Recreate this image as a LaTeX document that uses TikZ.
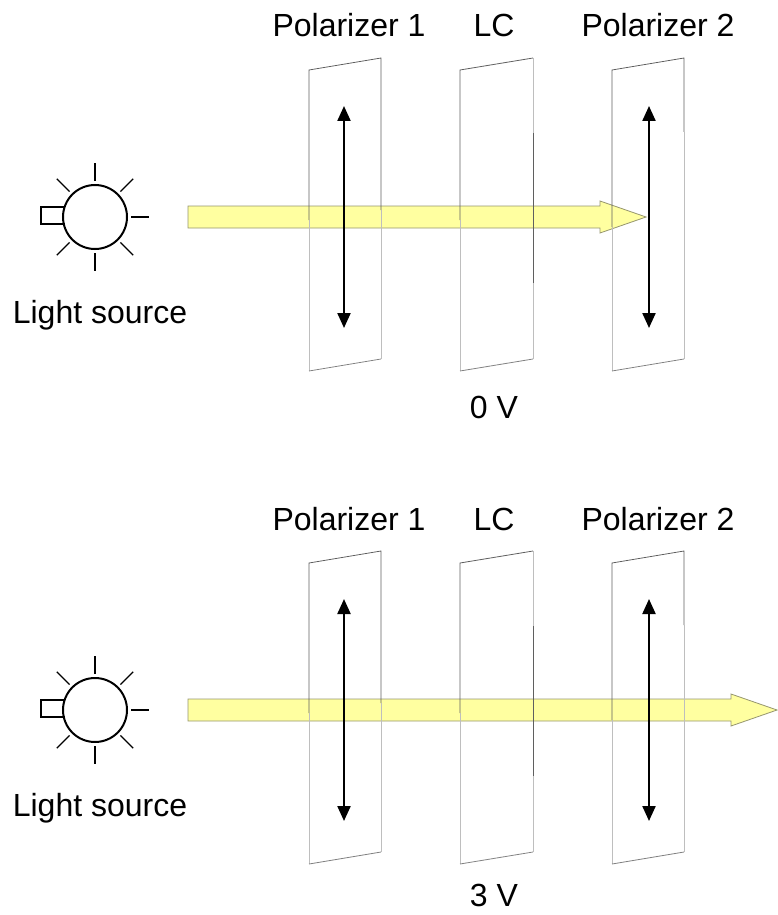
\documentclass[tikz,border=0pt]{standalone}
\usepackage{fontspec}
\setmainfont{Liberation Sans}
\usetikzlibrary{arrows.meta}
\definecolor{beamfill}{RGB}{255,255,160}
\definecolor{beamedge}{RGB}{150,150,110}
\definecolor{edgedark}{RGB}{95,95,95}
\definecolor{edgemid}{RGB}{130,130,130}
\definecolor{edgelight}{RGB}{190,190,190}
\tikzset{
  lbl/.style={font=\fontsize{32}{38}\selectfont, anchor=base, inner sep=0pt},
  bulb/.style={circle, draw=black, line width=2pt, minimum size=64pt, inner sep=0pt},
  bulbbase/.style={draw=black, line width=2pt},
  ray/.style={line width=1.3pt},
  beam/.style={fill=beamfill, draw=beamedge, line width=0.8pt},
  pdark/.style={draw=edgedark, line width=0.8pt},
  pmid/.style={draw=edgemid, line width=0.8pt},
  plight/.style={draw=edgelight, line width=1pt},
  polar/.style={line width=2.2pt, {Triangle[width=13pt,length=15pt]}-{Triangle[width=13pt,length=15pt]}},
}
\newcommand\halfdiagram[4]{%
  % beam
  \path[beam] (188,206) -- (#3,206) -- (#3,201) -- ({#3+46},217) -- (#3,233) -- (#3,228) -- (188,228) -- cycle;
  % light source
  \node[bulb] (#1bulb) at (95,217) {};
  \draw[bulbbase] (65,207) -- (41,207) -- (41,224) -- (65,224);
  \foreach \a in {0,45,90,135,225,270,315}
    \draw[ray, shift={(95,217)}] (\a:36) -- (\a:54);
  \node[lbl] (#1src) at (100,323) {Light source};
  % polarizer 1
  \draw[pdark] (309,220) -- (309,70) -- (381,58) -- (381,210);
  \draw[plight] (309,220) -- (309,371);
  \draw[plight] (381,210) -- (381,359);
  \draw[pmid] (309,371) -- (381,359);
  % LC
  \draw[pdark] (460,220) -- (460,70) -- (533,58);
  \draw[plight] (533,58) -- (533,133);
  \draw[pdark] (533,133) -- (533,283);
  \draw[plight] (533,283) -- (533,359);
  \draw[plight] (460,220) -- (460,371);
  \draw[pmid] (460,371) -- (533,359);
  % polarizer 2
  \draw[pdark] (612,227) -- (612,70) -- (684,58) -- (684,132);
  \draw[plight] (684,132) -- (684,359);
  \draw[plight] (612,227) -- (612,371);
  \draw[pmid] (612,371) -- (684,359);
  % polarization axes
  \coordinate (#1pat) at (344,106);
  \coordinate (#1pab) at (344,328);
  \coordinate (#1pbt) at (649,106);
  \coordinate (#1pbb) at (649,328);
  \draw[polar] (#1pat) -- (#1pab);
  \draw[polar] (#1pbt) -- (#1pbb);
  % labels
  \node[lbl] (#1lp1) at (349,37) {Polarizer 1};
  \node[lbl] (#1llc) at (494,37) {LC};
  \node[lbl] (#1lp2) at (658,37) {Polarizer 2};
  \node[lbl] (#1volt) at (494,#4) {#2};
}
\begin{document}
\begin{tikzpicture}[x=1pt,y=-1pt]
  \useasboundingbox (0,0) rectangle (777,915);
  \begin{scope}
    \halfdiagram{a}{0 V}{600}{418}
  \end{scope}
  \begin{scope}[yshift=-493pt]
    \halfdiagram{b}{3 V}{731}{413}
  \end{scope}
\end{tikzpicture}
\end{document}
